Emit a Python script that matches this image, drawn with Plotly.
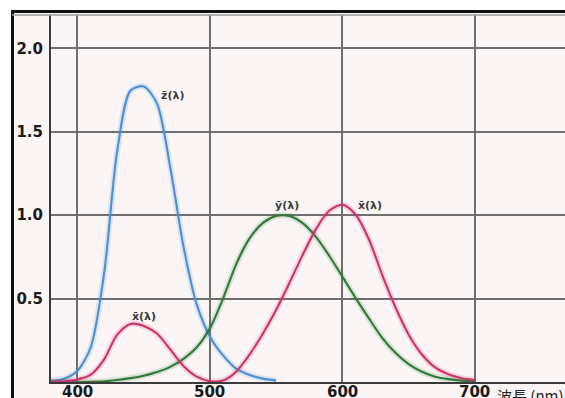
import plotly.graph_objects as go

# CIE 1931 colour-matching functions, 10 nm steps
wavelength = [380, 390, 400, 410, 420, 430, 440, 450, 460, 470, 480, 490, 500,
              510, 520, 530, 540, 550, 560, 570, 580, 590, 600, 610, 620, 630,
              640, 650, 660, 670, 680, 690, 700]
x_bar = [0.0014, 0.0042, 0.0143, 0.0435, 0.1344, 0.2839, 0.3483, 0.3362, 0.2908,
         0.1954, 0.0956, 0.0320, 0.0049, 0.0093, 0.0633, 0.1655, 0.2904, 0.4334,
         0.5945, 0.7621, 0.9163, 1.0263, 1.0622, 1.0026, 0.8544, 0.6424, 0.4479,
         0.2835, 0.1649, 0.0874, 0.0468, 0.0227, 0.0114]
y_bar = [0.0000, 0.0001, 0.0004, 0.0012, 0.0040, 0.0116, 0.0230, 0.0380, 0.0600,
         0.0910, 0.1390, 0.2080, 0.3230, 0.5030, 0.7100, 0.8620, 0.9540, 0.9950,
         0.9950, 0.9520, 0.8700, 0.7570, 0.6310, 0.5030, 0.3810, 0.2650, 0.1750,
         0.1070, 0.0610, 0.0320, 0.0170, 0.0082, 0.0041]
z_wavelength = [380, 390, 400, 410, 420, 430, 440, 450, 460, 470, 480, 490, 500,
                510, 520, 530, 540, 550]
z_bar = [0.0065, 0.0201, 0.0679, 0.2074, 0.6456, 1.3856, 1.7471, 1.7721, 1.6692,
         1.2876, 0.8130, 0.4652, 0.2720, 0.1582, 0.0783, 0.0422, 0.0203, 0.0088]

x_ticks = [400, 500, 600, 700]
x_ticktext = ["400", "500", "600", "700"]
y_ticks = [0.5, 1.0, 1.5, 2.0]
y_ticktext = ["0.5", "1.0", "1.5", "2.0"]

W, H = 565, 398
L, R, T, B = 51, 0, 15, 16
PW, PH = W - L - R, H - T - B


def px_x(p):
    return (p - L) / PW


def px_y(p):
    return (H - B - p) / PH


BLUE = "#4a90d2"
GREEN = "#2f7a3c"
RED = "#cc3469"

fig = go.Figure()
for xs, ys, col in [(z_wavelength, z_bar, BLUE),
                    (wavelength, y_bar, GREEN),
                    (wavelength, x_bar, RED)]:
    # soft halo under each curve
    fig.add_trace(go.Scatter(x=xs, y=ys, mode="lines",
                             line=dict(color=col, width=6, shape="spline", smoothing=0.8),
                             opacity=0.16, hoverinfo="skip"))
    fig.add_trace(go.Scatter(x=xs, y=ys, mode="lines",
                             line=dict(color=col, width=2.1, shape="spline", smoothing=0.8)))

lab_font = dict(family="DejaVu Sans", size=11, color="#3a3a3a", weight="bold")
fig.add_annotation(x=472, y=1.72, text="z\u0304(\u03bb)", showarrow=False, font=lab_font)
fig.add_annotation(x=558, y=1.06, text="\u0233(\u03bb)", showarrow=False, font=lab_font)
fig.add_annotation(x=621, y=1.06, text="x\u0304(\u03bb)", showarrow=False, font=lab_font)
fig.add_annotation(x=450, y=0.39, text="x\u0304(\u03bb)", showarrow=False, font=lab_font)

tick_font = dict(family="DejaVu Sans", size=15, color="#1a1a1a", weight="bold")

# wavelength labels sit just under the axis and run off the bottom edge
for v, t in zip(x_ticks, x_ticktext):
    fig.add_annotation(x=v, yref="paper", y=px_y(381), text=t, showarrow=False,
                       xanchor="center", yanchor="top", font=tick_font)
fig.add_annotation(xref="paper", yref="paper", x=px_x(495), y=px_y(383),
                   text="波長 (nm)", showarrow=False, xanchor="left", yanchor="top",
                   font=dict(family="Noto Sans CJK JP", size=15, color="#222222"))

# framed panel behind the chart
fig.add_shape(type="rect", xref="paper", yref="paper", layer="below",
              x0=px_x(12.5), x1=px_x(600), y0=px_y(11.5), y1=px_y(430),
              line=dict(color="#111111", width=3), fillcolor="#fbf5f5")
fig.add_shape(type="line", xref="paper", yref="paper",
              x0=px_x(12), x1=1, y0=1, y1=1,
              line=dict(color="#9a9a9a", width=1.5))

fig.update_xaxes(range=[380, 768], tickvals=x_ticks, showticklabels=False, showgrid=True,
                 gridcolor="#6f6f6f", gridwidth=1.5, zeroline=False,
                 showline=True, linecolor="#3a3a3a", linewidth=2, automargin=False,
                 ticks="")
fig.update_yaxes(range=[0, 2.2], tickvals=y_ticks, ticktext=y_ticktext,
                 showgrid=True, gridcolor="#6f6f6f", gridwidth=1.5, zeroline=False,
                 showline=True, linecolor="#3a3a3a", linewidth=2, automargin=False,
                 ticks="", ticklabelstandoff=3, tickfont=tick_font)

fig.update_layout(width=W, height=H, margin=dict(l=L, r=R, t=T, b=B, pad=0),
                  paper_bgcolor="white", plot_bgcolor="#fbf5f5", showlegend=False)

fig.write_html("out.html")
